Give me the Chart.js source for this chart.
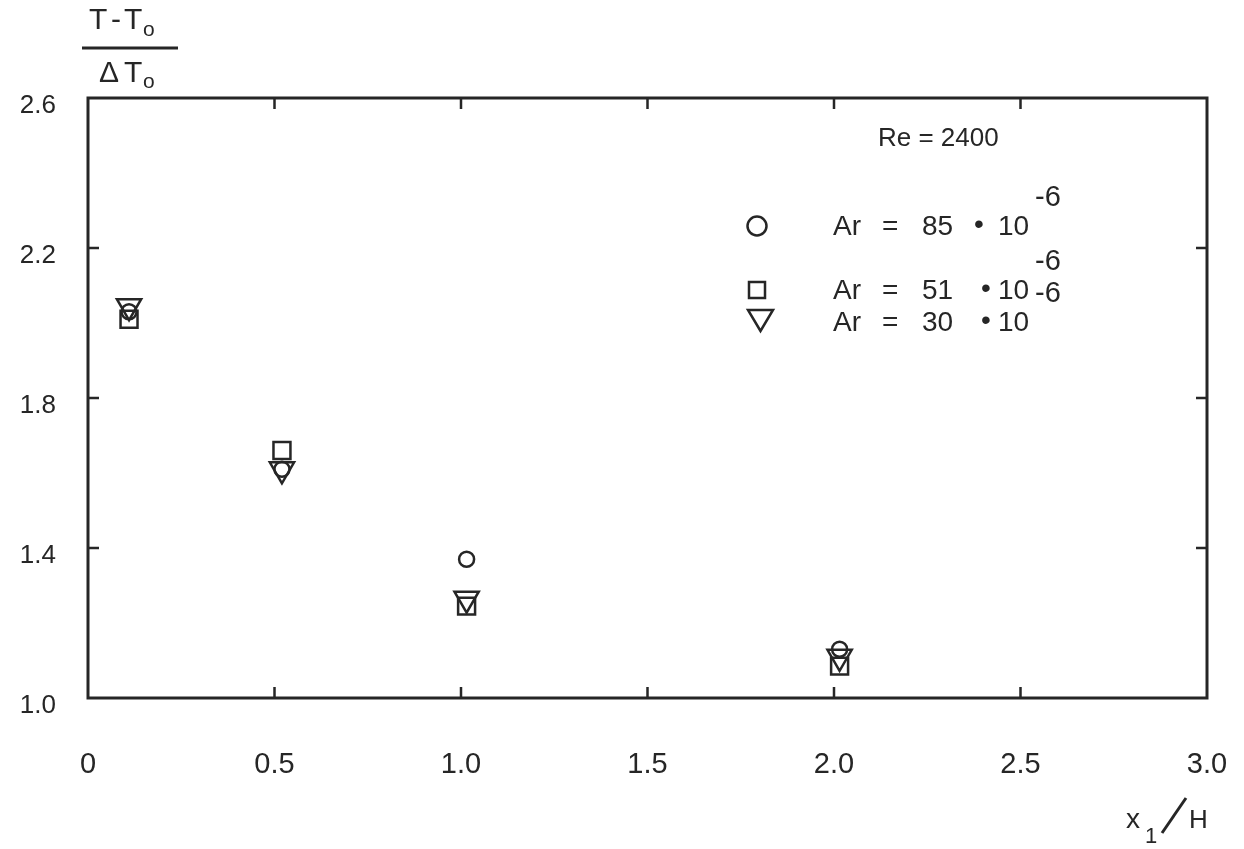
<!DOCTYPE html>
<html>
<head>
<meta charset="utf-8">
<script src="https://cdn.jsdelivr.net/npm/chart.js@4/dist/chart.umd.min.js"></script>
<style>
html, body { margin: 0; padding: 0; background: #fff; }
</style>
</head>
<body>
<canvas id="myChart" width="1244" height="849"></canvas>
<script>
// Data (x1/H and (T-T0)/dT0)
const xPositions = [0.11, 0.52, 1.015, 2.015];
const ar85 = [2.03, 1.61, 1.37, 1.13];   // circles
const ar51 = [2.01, 1.66, 1.245, 1.085]; // squares
const ar30 = [2.045, 1.61, 1.265, 1.11]; // triangles

const seriesLabels = ['85', '51', '30'];

const xTickValues = [0, 0.5, 1.0, 1.5, 2.0, 2.5, 3.0];
const xTickLabels = ['0', '0.5', '1.0', '1.5', '2.0', '2.5', '3.0'];
const yTickValues = [1.0, 1.4, 1.8, 2.2, 2.6];
const yTickLabels = ['1.0', '1.4', '1.8', '2.2', '2.6'];

const ink = '#262626';
const fontFamily = '"Liberation Sans", Arial, sans-serif';

function toPoints(ys) {
    return ys.map((y, i) => ({x: xPositions[i], y: y}));
}

// Frame, inward ticks and the hand-placed texts
const decorPlugin = {
    id: 'decor',
    afterDraw(chart) {
        const ctx = chart.ctx;
        const area = chart.chartArea;
        const xs = chart.scales.x;
        const ys = chart.scales.y;
        ctx.save();
        ctx.strokeStyle = ink;
        ctx.lineWidth = 3;
        ctx.strokeRect(area.left, area.top, area.right - area.left, area.bottom - area.top);

        ctx.lineWidth = 2.5;
        ctx.beginPath();
        xTickValues.slice(1, -1).forEach(v => {
            let px = xs.getPixelForValue(v);
            ctx.moveTo(px, area.bottom);
            ctx.lineTo(px, area.bottom - 11);
            ctx.moveTo(px, area.top);
            ctx.lineTo(px, area.top + 11);
        });
        yTickValues.slice(1, -1).forEach(v => {
            let py = ys.getPixelForValue(v);
            ctx.moveTo(area.right, py);
            ctx.lineTo(area.right - 11, py);
            ctx.moveTo(area.left, py);
            ctx.lineTo(area.left + 11, py);
        });
        ctx.stroke();

        ctx.fillStyle = ink;
        ctx.textBaseline = 'alphabetic';
        ctx.textAlign = 'left';

        // y axis title as a fraction
        ctx.font = '30px ' + fontFamily;
        ctx.fillText('T', 89, 29);
        ctx.fillText('-', 111, 29);
        ctx.fillText('T', 124, 29);
        ctx.font = '21px ' + fontFamily;
        ctx.fillText('o', 143, 36);
        ctx.lineWidth = 3;
        ctx.beginPath();
        ctx.moveTo(82, 48);
        ctx.lineTo(178, 48);
        ctx.stroke();
        ctx.font = '30px ' + fontFamily;
        ctx.fillText('\u0394', 99, 82);
        ctx.fillText('T', 124, 82);
        ctx.font = '21px ' + fontFamily;
        ctx.fillText('o', 143, 88);

        // x axis title
        ctx.font = '28px ' + fontFamily;
        ctx.fillText('x', 1126, 828);
        ctx.font = '22px ' + fontFamily;
        ctx.fillText('1', 1145, 843);
        ctx.lineWidth = 3;
        ctx.beginPath();
        ctx.moveTo(1162, 833);
        ctx.lineTo(1186, 798);
        ctx.stroke();
        ctx.font = '26px ' + fontFamily;
        ctx.fillText('H', 1189, 828);

        // Reynolds number and legend
        ctx.font = '26px ' + fontFamily;
        ctx.fillText('Re = 2400', 878, 146);

        const rows = [
            {style: 'circle', y: 228, supY: 206},
            {style: 'rect', y: 292, supY: 270},
            {style: 'triangle', y: 324, supY: 302}
        ];
        rows.forEach((r, i) => {
            ctx.lineWidth = 2.5;
            ctx.beginPath();
            if (r.style === 'circle') {
                ctx.arc(757, r.y - 2, 9.5, 0, Math.PI * 2);
            } else if (r.style === 'rect') {
                ctx.rect(749, r.y - 10, 16, 16);
            } else {
                ctx.moveTo(748, r.y - 14);
                ctx.lineTo(773, r.y - 14);
                ctx.lineTo(760.5, r.y + 7);
                ctx.closePath();
            }
            ctx.stroke();
            ctx.font = '28px ' + fontFamily;
            ctx.fillText('Ar', 833, r.y + 7);
            ctx.fillText('=', 882, r.y + 7);
            ctx.fillText(seriesLabels[i], 922, r.y + 7);
            ctx.fillText('\u2022', i === 0 ? 974 : 981, r.y + 5);
            ctx.fillText('10', 998, r.y + 7);
            ctx.font = '29px ' + fontFamily;
            ctx.fillText('-6', 1035, r.supY);
        });
        ctx.restore();
    }
};

const ctx = document.getElementById('myChart').getContext('2d');

const chart = new Chart(ctx, {
    type: 'scatter',
    data: {
        datasets: [
            {
                label: 'Ar = 85 \u00b7 10^-6',
                data: toPoints(ar85),
                pointStyle: 'circle',
                pointRadius: 7.5,
                borderColor: ink,
                backgroundColor: 'rgba(0,0,0,0)',
                borderWidth: 2.5
            },
            {
                label: 'Ar = 51 \u00b7 10^-6',
                data: toPoints(ar51),
                pointStyle: 'rect',
                pointRadius: 12,
                borderColor: ink,
                backgroundColor: 'rgba(0,0,0,0)',
                borderWidth: 2.5
            },
            {
                label: 'Ar = 30 \u00b7 10^-6',
                data: toPoints(ar30),
                pointStyle: 'triangle',
                rotation: 180,
                pointRadius: 14,
                borderColor: ink,
                backgroundColor: 'rgba(0,0,0,0)',
                borderWidth: 2.5
            }
        ]
    },
    options: {
        responsive: false,
        animation: false,
        devicePixelRatio: 1,
        layout: {
            padding: {top: 98, right: 37, left: 0, bottom: 0}
        },
        plugins: {
            legend: {display: false},
            tooltip: {enabled: false}
        },
        scales: {
            x: {
                type: 'linear',
                min: 0,
                max: 3,
                afterBuildTicks: (scale) => {
                    scale.ticks = xTickValues.map(v => ({value: v}));
                },
                afterFit: (scale) => {
                    scale.height = 151;
                    scale.paddingLeft = 0;
                    scale.paddingRight = 0;
                },
                grid: {display: false, drawTicks: false},
                border: {display: false},
                ticks: {
                    callback: (value, index) => xTickLabels[index],
                    color: ink,
                    font: {family: fontFamily, size: 29},
                    padding: 50,
                    maxRotation: 0,
                    autoSkip: false
                }
            },
            y: {
                type: 'linear',
                min: 1.0,
                max: 2.6,
                afterBuildTicks: (scale) => {
                    scale.ticks = yTickValues.map(v => ({value: v}));
                },
                afterFit: (scale) => {
                    scale.width = 88;
                },
                grid: {display: false, drawTicks: false},
                border: {display: false},
                ticks: {
                    callback: (value, index) => yTickLabels[index],
                    color: ink,
                    font: {family: fontFamily, size: 26},
                    padding: 32,
                    labelOffset: 8,
                    autoSkip: false
                }
            }
        }
    },
    plugins: [decorPlugin]
});
</script>
</body>
</html>
